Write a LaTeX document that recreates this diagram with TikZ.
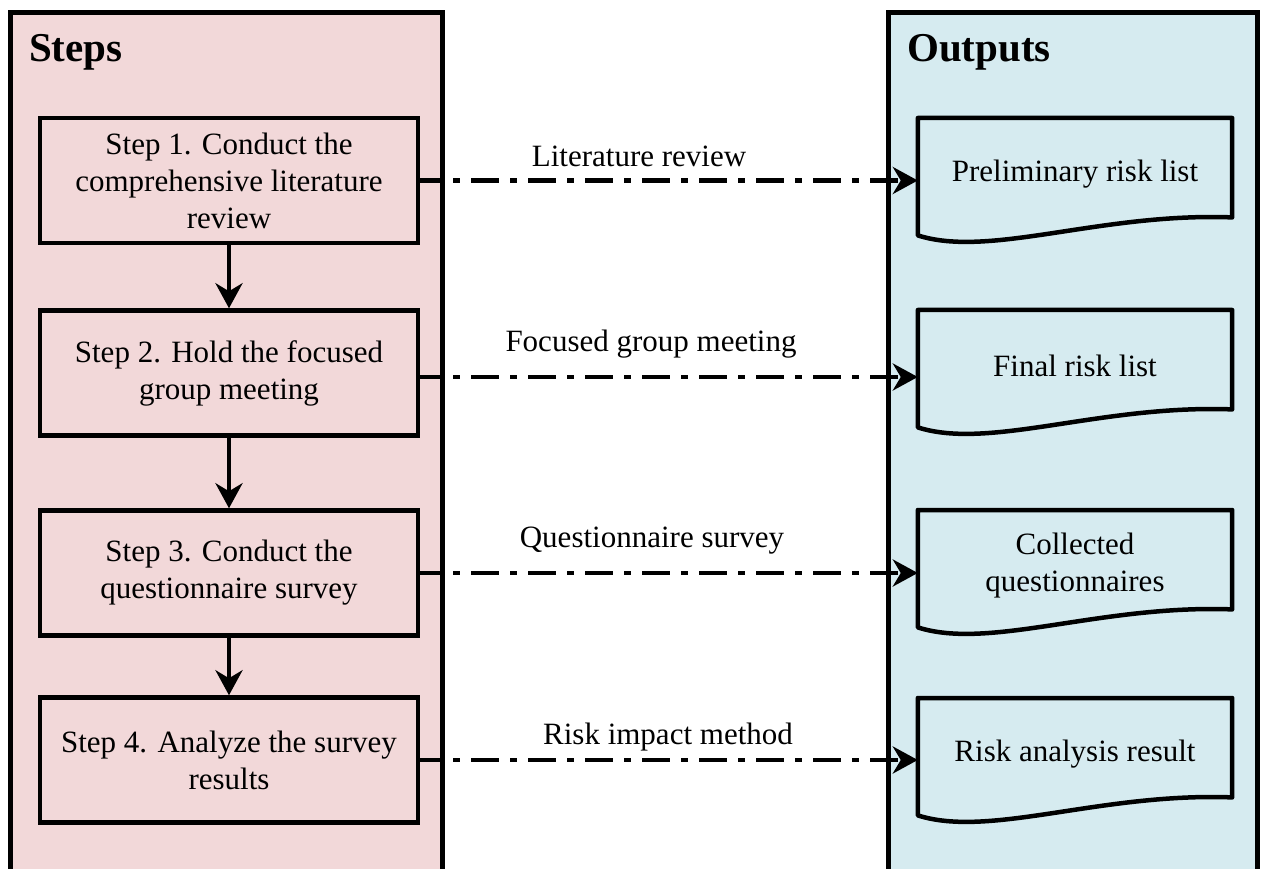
\documentclass[tikz,border=0pt]{standalone}
\usepackage{fontspec}
\setmainfont{Liberation Serif}
\usetikzlibrary{arrows.meta}
\definecolor{panelpink}{RGB}{242,216,217}
\definecolor{panelblue}{RGB}{214,235,240}
\tikzset{
  panel/.style={draw=black, line width=5pt},
  stepbox/.style={draw=black, line width=4.5pt, fill=panelpink, minimum width=378pt, minimum height=125pt, inner sep=0pt, align=center, font=\fontsize{31}{37}\selectfont, execute at begin node={\vspace*{5pt}}},
  docbox/.style={inner sep=0pt, minimum width=314pt, minimum height=105pt, align=center, font=\fontsize{31}{37}\selectfont},
  docline/.style={draw=black, line width=4.5pt, fill=panelblue, line join=round},
  flowarrow/.style={draw=black, line width=4.5pt, -{Stealth[length=25pt,width=27pt,inset=8pt]}},
  dasharrow/.style={draw=black, line width=4.5pt, dash pattern=on 28pt off 11pt on 7pt off 11pt, dash phase=6pt, -{Stealth[length=25pt,width=27pt,inset=8pt]}},
  lbl/.style={font=\fontsize{31}{37}\selectfont, inner sep=0pt},
  ttl/.style={font=\fontsize{41}{49}\selectfont\bfseries, inner sep=0pt, anchor=base west},
}
\begin{document}
\begin{tikzpicture}[x=1pt,y=-1pt]
\useasboundingbox (0,0) rectangle (1262,869);
\clip (0,0) rectangle (1262,869);
% panels
\draw[panel, fill=panelpink] (10,13) rectangle (442,900);
\draw[panel, fill=panelblue] (888,13) rectangle (1257,900);
\node[ttl] (tsteps) at (29,62) {Steps};
\node[ttl] (touts) at (907,62) {Outputs};
% step boxes
\node[stepbox] (s1) at (229,180.5) {Step 1. Conduct the\\comprehensive literature\\review};
\node[stepbox] (s2) at (229,373) {Step 2. Hold the focused\\group meeting};
\node[stepbox] (s3) at (229,573) {Step 3. Conduct the\\questionnaire survey};
\node[stepbox] (s4) at (229,760) {Step 4. Analyze the survey\\results};
% documents
\foreach \n/\t/\txt in {d1/118/{Preliminary risk list}, d2/310/{Final risk list}, d3/510/{Collected\\questionnaires}, d4/698/{Risk analysis result}}{
  \node[docbox, anchor=north] (\n) at (1075,\t) {};
  \draw[docline] (\n.north west) -- (\n.north east) -- ([yshift=6pt]\n.south east)
     .. controls ([xshift=-132pt,yshift=11pt]\n.south east) and ([xshift=72pt,yshift=-35pt]\n.south west) ..
     ([yshift=-12pt]\n.south west) -- cycle;
  \node[docbox, anchor=north] at ([yshift=-3pt]\n.north) {\txt};
}
% flow arrows
\draw[flowarrow] (s1) -- (s2);
\draw[flowarrow] (s2) -- (s3);
\draw[flowarrow] (s3) -- (s4);
% output arrows
\draw[dasharrow] (s1.east) -- (s1.east -| d1.west);
\draw[dasharrow] ([yshift=-4pt]s2.east) -- ([yshift=-4pt]s2.east -| d2.west);
\draw[dasharrow] (s3.east) -- (s3.east -| d3.west);
\draw[dasharrow] (s4.east) -- (s4.east -| d4.west);
% labels
\node[lbl] (l1) at (639,156) {Literature review};
\node[lbl] (l2) at (651,344) {Focused group meeting};
\node[lbl] (l3) at (652,541) {Questionnaire survey};
\node[lbl] (l4) at (668,737) {Risk impact method};
\end{tikzpicture}
\end{document}
